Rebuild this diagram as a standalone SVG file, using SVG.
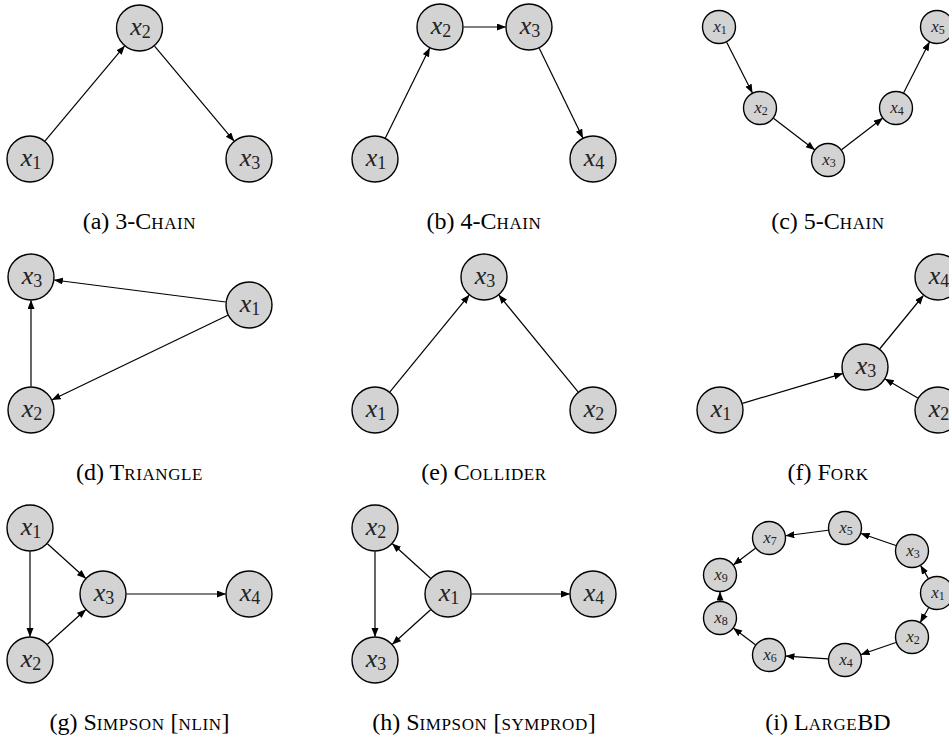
<svg xmlns="http://www.w3.org/2000/svg" width="949" height="740" viewBox="0 0 949 740">
<defs>
<style>
.n circle{fill:#d3d3d3;stroke:#000;stroke-width:1.4}
.lb{font-family:"Liberation Serif",serif;font-style:italic;font-size:26px;text-anchor:middle;fill:#222}
.lb tspan{font-style:normal;font-size:18px}
.ls{font-family:"Liberation Serif",serif;font-style:italic;font-size:17px;text-anchor:middle;fill:#222}
.ls tspan{font-style:normal;font-size:12px}
.e path{stroke:#000;stroke-width:1.2;fill:none;marker-end:url(#ah)}
.cap{font-family:"Liberation Serif",serif;font-size:24px;text-anchor:middle;fill:#000}
.sc{font-size:17px;letter-spacing:0.6px}
</style>
<marker id="ah" markerUnits="userSpaceOnUse" markerWidth="10" markerHeight="8" refX="8.5" refY="3.5" orient="auto"><path d="M0,0 L9,3.5 L0,7 z" fill="#000"/></marker>
</defs>
<rect width="949" height="740" fill="#fff"/>

<g id="edges" class="e">
<!-- a -->
<path d="M45.07,140.97 L124.43,46.03"/>
<path d="M154.57,46.03 L233.93,140.97"/>
<!-- b -->
<path d="M385.38,137.91 L429.62,48.09"/>
<path d="M463.5,27 L505.5,27"/>
<path d="M539.25,48.15 L582.75,137.85"/>
<!-- c -->
<path d="M726.68,42.17 L752.32,92.83"/>
<path d="M773.5,118.33 L814.5,149.67"/>
<path d="M841.5,149.67 L882.5,118.33"/>
<path d="M903.68,92.83 L929.32,42.17"/>
<!-- d -->
<path d="M225.69,302.01 L54.31,279.99"/>
<path d="M227.83,315.2 L52.17,399.8"/>
<path d="M31,386.5 L31,300.5"/>
<!-- e -->
<path d="M389.9,391.82 L469.1,295.18"/>
<path d="M578.1,391.82 L498.9,295.18"/>
<!-- f -->
<path d="M742.53,403.32 L842.47,373.68"/>
<path d="M917.75,398.07 L885.25,378.93"/>
<path d="M879.8,348.75 L923.2,295.75"/>
<!-- g -->
<path d="M30,551.5 L30,636.5"/>
<path d="M47.43,543.76 L85.57,578.24"/>
<path d="M47.43,644.24 L85.57,609.76"/>
<path d="M126.5,594 L225.5,594"/>
<!-- h -->
<path d="M430.57,578.24 L392.43,543.76"/>
<path d="M430.57,609.76 L392.43,644.24"/>
<path d="M375,551.5 L375,636.5"/>
<path d="M471.5,594 L569.5,594"/>
<!-- i -->
<path d="M928.3,578.39 L920.7,565.61"/>
<path d="M895.92,545.48 L861.08,533.52"/>
<path d="M828.15,530.22 L785.85,535.78"/>
<path d="M755.43,548.24 L733.57,564.76"/>
<path d="M928.6,607.78 L920.4,622.22"/>
<path d="M895.92,642.52 L861.08,654.48"/>
<path d="M828.04,658.88 L785.96,656.12"/>
<path d="M755.43,644.76 L733.57,628.24"/>
<path d="M720,601 L720,592"/>
</g>

<!-- (a) -->
<g id="a-x1" class="n"><circle cx="30" cy="159" r="23"/><text class="lb" x="31" y="166">x<tspan dy="3">1</tspan></text></g>
<g id="a-x2" class="n"><circle cx="139.5" cy="28" r="23"/><text class="lb" x="140.5" y="35">x<tspan dy="3">2</tspan></text></g>
<g id="a-x3" class="n"><circle cx="249" cy="159" r="23"/><text class="lb" x="250" y="166">x<tspan dy="3">3</tspan></text></g>

<!-- (b) -->
<g id="b-x1" class="n"><circle cx="375" cy="159" r="23"/><text class="lb" x="376" y="166">x<tspan dy="3">1</tspan></text></g>
<g id="b-x2" class="n"><circle cx="440" cy="27" r="23"/><text class="lb" x="441" y="34">x<tspan dy="3">2</tspan></text></g>
<g id="b-x3" class="n"><circle cx="529" cy="27" r="23"/><text class="lb" x="530" y="34">x<tspan dy="3">3</tspan></text></g>
<g id="b-x4" class="n"><circle cx="593" cy="159" r="23"/><text class="lb" x="594" y="166">x<tspan dy="3">4</tspan></text></g>

<!-- (c) -->
<g id="c-x1" class="n"><circle cx="719" cy="27" r="16.5"/><text class="ls" x="720" y="32">x<tspan dy="2">1</tspan></text></g>
<g id="c-x2" class="n"><circle cx="760" cy="108" r="16.5"/><text class="ls" x="761" y="113">x<tspan dy="2">2</tspan></text></g>
<g id="c-x3" class="n"><circle cx="828" cy="160" r="16.5"/><text class="ls" x="829" y="165">x<tspan dy="2">3</tspan></text></g>
<g id="c-x4" class="n"><circle cx="896" cy="108" r="16.5"/><text class="ls" x="897" y="113">x<tspan dy="2">4</tspan></text></g>
<g id="c-x5" class="n"><circle cx="937" cy="27" r="16.5"/><text class="ls" x="938" y="32">x<tspan dy="2">5</tspan></text></g>

<!-- (d) -->
<g id="d-x1" class="n"><circle cx="249" cy="305" r="23"/><text class="lb" x="250" y="312">x<tspan dy="3">1</tspan></text></g>
<g id="d-x2" class="n"><circle cx="31" cy="410" r="23"/><text class="lb" x="32" y="417">x<tspan dy="3">2</tspan></text></g>
<g id="d-x3" class="n"><circle cx="31" cy="277" r="23"/><text class="lb" x="32" y="284">x<tspan dy="3">3</tspan></text></g>

<!-- (e) -->
<g id="e-x1" class="n"><circle cx="375" cy="410" r="23"/><text class="lb" x="376" y="417">x<tspan dy="3">1</tspan></text></g>
<g id="e-x2" class="n"><circle cx="593" cy="410" r="23"/><text class="lb" x="594" y="417">x<tspan dy="3">2</tspan></text></g>
<g id="e-x3" class="n"><circle cx="484" cy="277" r="23"/><text class="lb" x="485" y="284">x<tspan dy="3">3</tspan></text></g>

<!-- (f) -->
<g id="f-x1" class="n"><circle cx="720" cy="410" r="23"/><text class="lb" x="721" y="417">x<tspan dy="3">1</tspan></text></g>
<g id="f-x2" class="n"><circle cx="938" cy="410" r="23"/><text class="lb" x="939" y="417">x<tspan dy="3">2</tspan></text></g>
<g id="f-x3" class="n"><circle cx="865" cy="367" r="23"/><text class="lb" x="866" y="374">x<tspan dy="3">3</tspan></text></g>
<g id="f-x4" class="n"><circle cx="938" cy="277" r="23"/><text class="lb" x="939" y="284">x<tspan dy="3">4</tspan></text></g>

<!-- (g) -->
<g id="g-x1" class="n"><circle cx="30" cy="528" r="23"/><text class="lb" x="31" y="535">x<tspan dy="3">1</tspan></text></g>
<g id="g-x2" class="n"><circle cx="30" cy="660" r="23"/><text class="lb" x="31" y="667">x<tspan dy="3">2</tspan></text></g>
<g id="g-x3" class="n"><circle cx="103" cy="594" r="23"/><text class="lb" x="104" y="601">x<tspan dy="3">3</tspan></text></g>
<g id="g-x4" class="n"><circle cx="249" cy="594" r="23"/><text class="lb" x="250" y="601">x<tspan dy="3">4</tspan></text></g>

<!-- (h) -->
<g id="h-x1" class="n"><circle cx="448" cy="594" r="23"/><text class="lb" x="449" y="601">x<tspan dy="3">1</tspan></text></g>
<g id="h-x2" class="n"><circle cx="375" cy="528" r="23"/><text class="lb" x="376" y="535">x<tspan dy="3">2</tspan></text></g>
<g id="h-x3" class="n"><circle cx="375" cy="660" r="23"/><text class="lb" x="376" y="667">x<tspan dy="3">3</tspan></text></g>
<g id="h-x4" class="n"><circle cx="593" cy="594" r="23"/><text class="lb" x="594" y="601">x<tspan dy="3">4</tspan></text></g>

<!-- (i) -->
<g id="i-x1" class="n"><circle cx="937" cy="593" r="16.5"/><text class="ls" x="938" y="598">x<tspan dy="2">1</tspan></text></g>
<g id="i-x2" class="n"><circle cx="912" cy="637" r="16.5"/><text class="ls" x="913" y="642">x<tspan dy="2">2</tspan></text></g>
<g id="i-x3" class="n"><circle cx="912" cy="551" r="16.5"/><text class="ls" x="913" y="556">x<tspan dy="2">3</tspan></text></g>
<g id="i-x4" class="n"><circle cx="845" cy="660" r="16.5"/><text class="ls" x="846" y="665">x<tspan dy="2">4</tspan></text></g>
<g id="i-x5" class="n"><circle cx="845" cy="528" r="16.5"/><text class="ls" x="846" y="533">x<tspan dy="2">5</tspan></text></g>
<g id="i-x6" class="n"><circle cx="769" cy="655" r="16.5"/><text class="ls" x="770" y="660">x<tspan dy="2">6</tspan></text></g>
<g id="i-x7" class="n"><circle cx="769" cy="538" r="16.5"/><text class="ls" x="770" y="543">x<tspan dy="2">7</tspan></text></g>
<g id="i-x8" class="n"><circle cx="720" cy="618" r="16.5"/><text class="ls" x="721" y="623">x<tspan dy="2">8</tspan></text></g>
<g id="i-x9" class="n"><circle cx="720" cy="575" r="16.5"/><text class="ls" x="721" y="580">x<tspan dy="2">9</tspan></text></g>

<g id="captions">
<text class="cap" x="139.5" y="229">(a) 3-C<tspan class="sc">HAIN</tspan></text>
<text class="cap" x="484" y="229">(b) 4-C<tspan class="sc">HAIN</tspan></text>
<text class="cap" x="828" y="229">(c) 5-C<tspan class="sc">HAIN</tspan></text>
<text class="cap" x="139.5" y="480">(d) T<tspan class="sc">RIANGLE</tspan></text>
<text class="cap" x="484" y="480">(e) C<tspan class="sc">OLLIDER</tspan></text>
<text class="cap" x="828" y="480">(f) F<tspan class="sc">ORK</tspan></text>
<text class="cap" x="139.5" y="730">(g) S<tspan class="sc">IMPSON</tspan> [<tspan class="sc">NLIN</tspan>]</text>
<text class="cap" x="484" y="730">(h) S<tspan class="sc">IMPSON</tspan> [<tspan class="sc">SYMPROD</tspan>]</text>
<text class="cap" x="828" y="730">(i) L<tspan class="sc">ARGE</tspan>BD</text>
</g>
</svg>
